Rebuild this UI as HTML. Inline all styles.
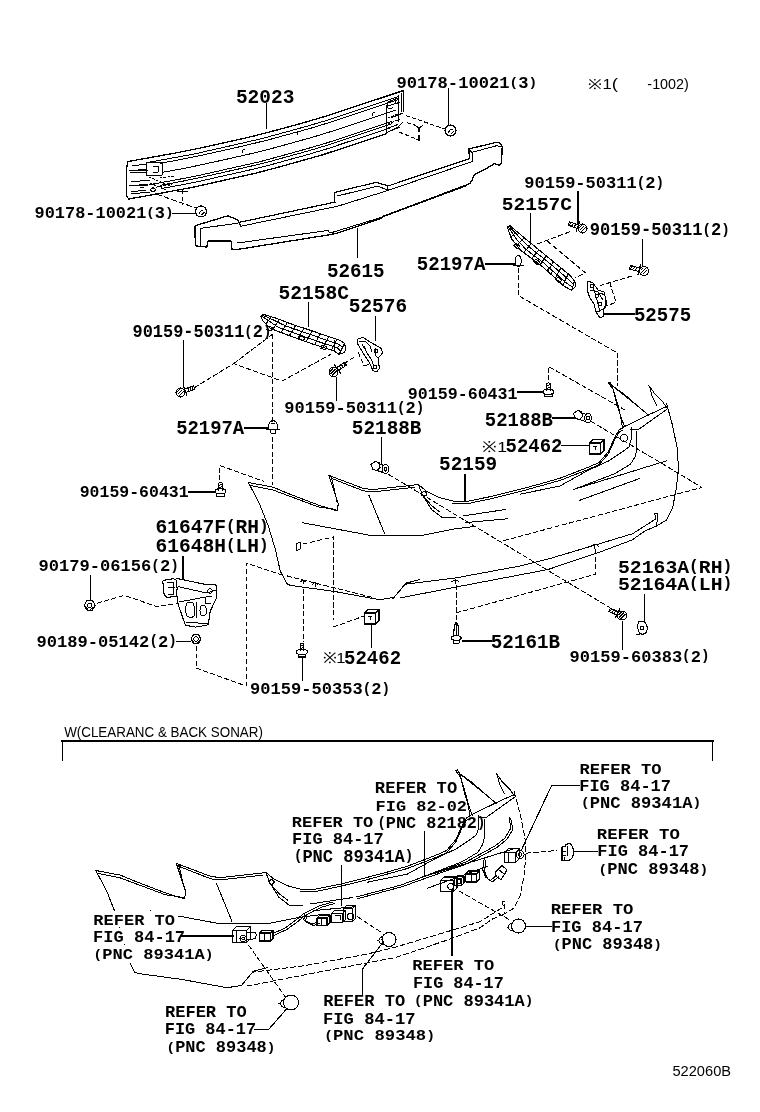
<!DOCTYPE html>
<html><head><meta charset="utf-8"><title>Parts diagram</title>
<style>html,body{margin:0;padding:0;background:#fff;} svg{display:block;}</style></head>
<body><svg width="760" height="1112" viewBox="0 0 760 1112">
<rect width="760" height="1112" fill="#fff"/>
<g fill="none" stroke="#000" stroke-width="1" stroke-linejoin="round" stroke-linecap="round" shape-rendering="crispEdges">
<path d="M127.8,161.6 L152.7,157.1 L177.7,152.6 L202.6,147.6 L227.5,142.0 L252.4,136.4 L277.4,129.9 L302.3,123.1 L327.2,115.8 L352.1,107.5 L377.1,99.3 L402.0,91.0" stroke-width="1.3"/>
<path d="M150.0,162.1 L172.5,158.0 L195.1,153.8 L217.6,148.7 L240.2,143.6 L262.7,138.4 L285.3,132.2 L307.8,126.0 L330.4,119.3 L352.9,111.8 L375.5,104.3 L398.0,96.8"/>
<path d="M160.0,163.3 L181.6,159.4 L203.3,154.9 L224.9,150.1 L246.5,145.2 L268.2,139.9 L289.8,134.0 L311.5,128.0 L333.1,121.4 L354.7,114.2 L376.4,107.0 L398.0,99.8"/>
<path d="M162.0,172.4 L183.3,168.6 L204.5,164.1 L225.8,159.4 L247.1,154.6 L268.4,149.4 L289.6,143.6 L310.9,137.7 L332.2,131.2 L353.5,124.1 L374.7,117.0 L396.0,110.0"/>
<path d="M150.0,184.6 L172.0,180.6 L194.0,176.5 L216.0,171.6 L238.0,166.6 L260.0,161.7 L282.0,155.7 L304.0,149.6 L326.0,143.2 L348.0,135.9 L370.0,128.6 L392.0,121.3"/>
<path d="M160.0,185.3 L181.1,181.5 L202.2,177.2 L223.3,172.4 L244.4,167.7 L265.5,162.7 L286.5,156.9 L307.6,151.1 L328.7,144.8 L349.8,137.8 L370.9,130.8 L392.0,123.8"/>
<path d="M162.0,188.4 L182.7,184.7 L203.5,180.4 L224.2,175.7 L244.9,171.1 L265.6,166.2 L286.4,160.4 L307.1,154.8 L327.8,148.6 L348.5,141.7 L369.3,134.9 L390.0,128.0"/>
<path d="M149.0,195.3 L170.5,191.4 L192.1,187.4 L213.6,182.6 L235.2,177.8 L256.7,172.9 L278.3,167.2 L299.8,161.2 L321.4,155.2 L342.9,148.1 L364.5,141.0 L386.0,133.8" stroke-width="1.3"/>
<path d="M127.8,161.6 L126.7,168.0 L126.7,196.3 L128.8,199.0 L149.4,195.3" stroke-width="1.3"/>
<path d="M132.0,166.0 L146.0,164.0"/>
<path d="M131.0,171.0 L146.0,169.0"/>
<path d="M131.0,182.0 L150.0,180.0"/>
<path d="M131.0,186.0 L148.0,184.0"/>
<path d="M131.0,192.0 L146.0,190.0"/>
<path d="M146.0,163.0 L162.0,162.0 L162.0,175.0 L146.0,176.0 L146.0,163.0"/>
<path d="M153.0,166.0 L158.0,166.0 L158.0,172.0 L153.0,172.0"/>
<path d="M129.4,171.0 L147.3,170.5"/>
<path d="M130.4,173.0 L146.0,172.6"/>
<path d="M149.0,177.0 L170.0,186.0" stroke-dasharray="2,2"/>
<path d="M150.0,183.0 L166.0,190.0" stroke-dasharray="2,2"/>
<path d="M160.0,178.0 L175.0,176.0" stroke-dasharray="2,2"/>
<path d="M152.0,188.0 L172.0,184.0" stroke-dasharray="2,2"/>
<path d="M150,190 q3,-3 6,0 q-3,3 -6,0"/>
<path d="M140,188 q2,-2 4,0"/>
<path d="M129.0,185.0 L148.0,186.0"/>
<path d="M131.0,194.0 L150.0,192.0"/>
<path d="M402.0,91.0 L403.5,90.5 L403.5,111.6" stroke-width="1.3"/>
<path d="M398.0,95.0 L398.0,122.0"/>
<path d="M386.0,105.0 L386.0,133.0"/>
<path d="M391.0,118.0 L403.0,113.0"/>
<path d="M386.0,133.0 L398.0,127.0 L403.0,122.0"/>
<path d="M242,153 q0,-4 3,-3"/>
<path d="M297,135 q0,-4 3,-3"/>
<path d="M372,116 q0,-4 3,-3"/>
<path d="M196.3,225.3 L227.9,215.8 L232.0,217.5 L237.4,220.0 L239.5,223.2 L240.5,226.3" stroke-width="1.3"/>
<path d="M200.5,228.4 L237.4,223.2"/>
<path d="M196.3,225.3 Q194.5,226 195,230 L195.3,244 Q196,247 200.5,246.3 L206.8,247 L208,241 L231,241 L232,249.5 L237.4,249.5" stroke-width="1.3"/>
<path d="M200.5,228.4 L200.5,246.3"/>
<path d="M240.5,222.1 L335.3,202.1" stroke-width="1.2"/>
<path d="M240.5,226.3 L337.4,206.3"/>
<path d="M334.2,202.0 L334.2,192.6 L376.9,182.1 L380.3,183.7 L387.0,185.5 L388.1,190.4" stroke-width="1.2"/>
<path d="M337.4,196.0 L378.0,186.0 L387.0,190.0"/>
<path d="M337.4,206.3 L388.1,190.4"/>
<path d="M388.0,186.0 L469.8,158.6" stroke-width="1.2"/>
<path d="M388.1,190.4 L473.0,161.3"/>
<path d="M469.8,158.6 L468.6,149.0 L496.6,142.3 L500.0,143.0 L502.2,146.8 L501.5,163.6 L498.8,165.3 L494.4,163.6 L485.4,169.1 L474.2,174.7 L472.0,180.3 L469.8,183.7" stroke-width="1.3"/>
<path d="M468.6,149.0 L472.0,152.4 L496.6,145.7 L502.2,146.8"/>
<path d="M472.0,152.4 L473.0,161.3"/>
<path d="M237.4,249.5 L328.0,235.0 L335.0,233.7 L381.4,218.4 L383.6,216.1 L469.8,183.7" stroke-width="1.3"/>
<path d="M237.4,243.0 L327.9,230.5 L330.0,233.0 L335.3,231.5 L382.5,217.0 L466.0,186.0"/>
<path d="M445.0,130.5 a5.5,5.5 0 1,0 11.0,0 a5.5,5.5 0 1,0 -11.0,0" stroke-width="1.2"/>
<path d="M448.5,132.5 q2,-4 4,-3 M451.5,133.5 l2,-2"/>
<path d="M195.5,211.5 a5.5,5.5 0 1,0 11.0,0 a5.5,5.5 0 1,0 -11.0,0" stroke-width="1.2"/>
<path d="M199,213.5 q2,-4 4,-3 M202,214.5 l2,-2"/>
<path d="M448.5,88.5 L448.5,125.0"/>
<path d="M171.5,213.0 L195.5,213.0"/>
<path d="M266.5,103.5 L266.5,128.5"/>
<path d="M357.5,228.5 L357.5,258.0"/>
<path d="M156.7,194.2 L195.7,207.9" stroke-dasharray="5,3"/>
<path d="M182.5,190.0 L182.5,205.0" stroke-dasharray="4,3"/>
<path d="M177.0,191.0 L188.0,191.0"/>
<path d="M406.0,115.7 L444.5,128.8" stroke-dasharray="3.5,3"/>
<path d="M407.0,122.6 L416.0,125.5" stroke-dasharray="3.5,3"/>
<path d="M415.3,125.6 L419.0,128.0 L422.6,125.6" stroke-width="1.1"/>
<path d="M419.0,128.0 L419.0,131.0" stroke-width="1.4"/>
<path d="M399.6,132.2 L418.0,139.6" stroke-dasharray="3.5,3"/>
<path d="M419.0,135.5 L419.0,140.5 L417.0,139.5" stroke-width="1.2"/>
<path d="M401.3,93.3 L401.3,111.7"/>
<path d="M386.6,113.5 L386.6,132.9"/>
<path d="M388.0,102.0 L398.0,98.0"/>
<path d="M388.0,106.0 L400.0,102.0"/>
<path d="M389,101 q-3,3 -1,7 q3,2 5,-1"/>
<path d="M395,99 l0,5 l3,-1"/>
<path d="M388.0,118.0 L398.0,114.0" stroke-dasharray="2,2"/>
<path d="M388.0,124.0 L400.0,119.0" stroke-dasharray="2,2"/>
<path d="M388.0,128.0 L398.0,124.5"/>
<path d="M390.0,131.0 L400.0,127.0"/>
<g><path d="M248.3,482.5 L273.2,487.2 L287.4,493.2 L318.2,505.0 L337.1,510.9 L338.3,503.8 L328.8,475.4 M250.7,485.5 L273.0,490.0 L318.0,506.8 L336.0,509.5 M331.5,477.5 L337.0,501.5 M328.8,475.4 L345.0,481.5 L363.2,488.4 L372.6,489.6 L405.8,486.0 L415.3,484.9 L418.4,484.5 L426.3,491.0 L439.5,497.6 L452.6,501.0 L465.8,501.6 L492.0,496.3 L518.4,489.7 L540.0,484.0 L559.5,478.4 L587.9,467.4 L599.0,462.6 L608.4,451.6 L614.7,437.4 L619.5,429.5 L622.6,428.0 M331.0,478.2 L363.2,490.8 L372.0,492.0 L405.0,488.3 L415.0,487.2 M452.6,503.2 L466.0,504.0 L492.0,498.5 L518.4,492.0 L559.5,480.6 L587.9,469.6 L599.0,464.8 L608.4,453.8 L614.7,439.6 L619.5,431.7 L623.0,430.2 M418.4,484.5 L422.4,495.0 L431.6,509.5 L442.0,517.4 L455.3,517.4 M421.0,493.7 L432.0,506.0 L440.0,512.0 M421.5,494 a2.6,2.2 0 1,0 5.2,0 a2.6,2.2 0 1,0 -5.2,0 M463.0,516.0 L505.3,509.5 M465.8,522.6 L508.0,518.7 M573.7,489.4 L666.6,460.8 M579.7,500.3 L640.0,478.4 M302.8,522.8 L372.6,535.8 L420.0,535.8 L452.6,529.2 L473.7,526.6 M369.0,495.5 L384.5,533.4 M520.0,494.2 L560.0,486.0 L587.9,470.5 L608.4,461.0 L622.6,451.6 L629.0,446.8 L631.0,440.0 L631.0,427.2 M573.7,489.5 L614.7,473.7 L630.5,464.2 L635.3,456.3 L636.8,450.0 L637.0,431.2 M622.6,428.0 L619.2,409.5 L613.3,389.7 L608.4,382.8 L610.0,382.0 L612.3,385.8 L617.0,405.0 L622.0,420.0 L625.0,427.2 M612.3,385.8 L625.0,396.0 L637.0,405.5 L648.8,415.4 M610.5,384.5 L624.0,394.0 L640.0,408.0 M648.8,385.4 L654.7,393.7 L662.6,401.6 L666.6,407.5 M649.8,386.8 L652.0,396.0 L656.7,405.5 M648.8,385.4 L649.8,386.8 M623.2,427.2 L645.0,416.5 L666.6,406.5 M631.0,429.5 L639.0,429.2 L666.6,409.5 M248.3,482.5 L259.0,502.6 L268.4,526.3 L275.5,550.0 L280.3,571.3 L287.4,584.3 L291.0,585.5 L334.7,591.5 L379.7,599.7 L394.0,597.4 L405.8,583.2 L420.0,579.6"/></g>
<g><path d="M666.6,403.6 L672.5,425.3 L677.4,449.0 L678.4,468.7 L676.4,488.4 L672.5,508.2 L666.6,520.0 L656.7,525.9 L657.7,514.0 L654.7,513.0 M654.7,513.0 L655.8,519.0 L632.6,533.7 L600.0,543.6 L548.4,559.0 L520.0,566.0 L455.8,577.9 L405.3,584.2 L392.6,599.0 M656.7,525.9 L645.0,531.0 L632.0,540.0 L600.0,552.0 L548.0,569.5 L464.0,585.5 L400.0,598.0"/></g>
<g transform="translate(-152.5,388)"><path d="M248.3,482.5 L273.2,487.2 L287.4,493.2 L318.2,505.0 L337.1,510.9 L338.3,503.8 L328.8,475.4 M250.7,485.5 L273.0,490.0 L318.0,506.8 L336.0,509.5 M331.5,477.5 L337.0,501.5 M328.8,475.4 L345.0,481.5 L363.2,488.4 L372.6,489.6 L405.8,486.0 L415.3,484.9 L418.4,484.5 L426.3,491.0 L439.5,497.6 L452.6,501.0 L465.8,501.6 L492.0,496.3 L518.4,489.7 L540.0,484.0 L559.5,478.4 L587.9,467.4 L599.0,462.6 L608.4,451.6 L614.7,437.4 L619.5,429.5 L622.6,428.0 M331.0,478.2 L363.2,490.8 L372.0,492.0 L405.0,488.3 L415.0,487.2 M452.6,503.2 L466.0,504.0 L492.0,498.5 L518.4,492.0 L559.5,480.6 L587.9,469.6 L599.0,464.8 L608.4,453.8 L614.7,439.6 L619.5,431.7 L623.0,430.2 M418.4,484.5 L422.4,495.0 L431.6,509.5 L442.0,517.4 L455.3,517.4 M421.0,493.7 L432.0,506.0 L440.0,512.0 M421.5,494 a2.6,2.2 0 1,0 5.2,0 a2.6,2.2 0 1,0 -5.2,0 M463.0,516.0 L505.3,509.5 M465.8,522.6 L508.0,518.7 M573.7,489.4 L666.6,460.8 M579.7,500.3 L640.0,478.4 M302.8,522.8 L372.6,535.8 L420.0,535.8 L452.6,529.2 L473.7,526.6 M369.0,495.5 L384.5,533.4 M520.0,494.2 L560.0,486.0 L587.9,470.5 L608.4,461.0 L622.6,451.6 L629.0,446.8 L631.0,440.0 L631.0,427.2 M573.7,489.5 L614.7,473.7 L630.5,464.2 L635.3,456.3 L636.8,450.0 L637.0,431.2 M622.6,428.0 L619.2,409.5 L613.3,389.7 L608.4,382.8 L610.0,382.0 L612.3,385.8 L617.0,405.0 L622.0,420.0 L625.0,427.2 M612.3,385.8 L625.0,396.0 L637.0,405.5 L648.8,415.4 M610.5,384.5 L624.0,394.0 L640.0,408.0 M648.8,385.4 L654.7,393.7 L662.6,401.6 L666.6,407.5 M649.8,386.8 L652.0,396.0 L656.7,405.5 M648.8,385.4 L649.8,386.8 M623.2,427.2 L645.0,416.5 L666.6,406.5 M631.0,429.5 L639.0,429.2 L666.6,409.5 M248.3,482.5 L259.0,502.6 L268.4,526.3 L275.5,550.0 L280.3,571.3 L287.4,584.3 L291.0,585.5 L334.7,591.5 L379.7,599.7 L394.0,597.4 L405.8,583.2 L420.0,579.6"/></g>
<g transform="translate(-152.5,388)" stroke-dasharray="5,3"><path d="M666.6,403.6 L672.5,425.3 L677.4,449.0 L678.4,468.7 L676.4,488.4 L672.5,508.2 L666.6,520.0 L656.7,525.9 L657.7,514.0 L654.7,513.0 M654.7,513.0 L655.8,519.0 L632.6,533.7 L600.0,543.6 L548.4,559.0 L520.0,566.0 L455.8,577.9 L405.3,584.2 L392.6,599.0 M656.7,525.9 L645.0,531.0 L632.0,540.0 L600.0,552.0 L548.0,569.5 L464.0,585.5 L400.0,598.0"/></g>
<path d="M509.5,225.3 L526.3,239.5 L534.7,246.3 L547.4,256.8 L559.0,266.3 L570.5,275.8 L574.5,281.0 L571.6,290.5 L563.0,285.5 L553.0,276.0 L542.0,266.3 L521.0,250.5 L511.6,239.0 L507.4,227.4 Z" stroke-width="1.1"/>
<path d="M508.8,226.0 L521.4,239.3 L530.1,247.7 L545.6,260.0 L557.0,269.5 L568.0,279.0 L573.5,284.2"/>
<path d="M508.1,226.7 L516.5,239.2 L525.6,249.1 L543.8,263.1 L555.0,272.8 L565.5,282.3 L572.6,287.3"/>
<path d="M516.8,231.5 L510.9,237.0"/>
<path d="M524.1,237.6 L516.7,245.3"/>
<path d="M531.4,243.6 L523.7,252.6"/>
<path d="M538.8,249.7 L531.9,258.7"/>
<path d="M546.1,255.8 L540.1,264.8"/>
<path d="M553.5,261.8 L547.8,271.4"/>
<path d="M560.9,267.8 L555.4,278.3"/>
<path d="M568.2,273.9 L562.8,285.3"/>
<path d="M516.0,243.0 L519.8,246.2 L517.6,248.9 L513.8,245.7 Z"/>
<path d="M536.0,259.0 L539.8,262.2 L537.6,264.9 L533.8,261.7 Z"/>
<path d="M549.0,268.0 L552.8,271.2 L550.6,273.9 L546.8,270.7 Z"/>
<path d="M558.0,277.0 L561.8,280.2 L559.6,282.9 L555.8,279.7 Z"/>
<path d="M574.5,281.0 L576.0,286.0 L571.6,290.5" stroke-width="1.1"/>
<path d="M588.0,281.0 L593.0,283.0 L598.0,290.0 L604.0,292.0 L606.0,300.0 L606.0,306.0 L603.0,310.0 L604.0,316.0 L600.0,318.0 L596.0,312.0 L594.0,304.0 L590.0,298.0 L587.0,290.0 Z" stroke-width="1.1"/>
<path d="M590.0,290.0 L598.0,292.0 L603.0,300.0"/>
<path d="M590.2,286 a1.8,1.8 0 1,0 3.6,0 a1.8,1.8 0 1,0 -3.6,0"/>
<path d="M598.2,304 a1.8,1.8 0 1,0 3.6,0 a1.8,1.8 0 1,0 -3.6,0"/>
<path d="M595.5,296 a1.5,1.5 0 1,0 3.0,0 a1.5,1.5 0 1,0 -3.0,0"/>
<path d="M596.0,312.0 L604.0,309.0"/>
<path d="M593.0,286.0 L597.0,300.0 L600.0,312.0"/>
<path d="M600.0,293.0 L605.0,295.0"/>
<path d="M262.9,314.2 L276.0,318.2 L293.2,324.7 L311.6,330.7 L328.7,336.6 L340.5,340.5 L344.5,343.2 L339.2,354.3 L334.0,351.0 L310.3,343.2 L286.6,334.6 L270.8,328.7 L262.9,320.8 L260.9,316.8 Z" stroke-width="1.1"/>
<path d="M262.2,315.1 L271.6,319.1 L285.7,326.0 L303.3,332.0 L322.6,338.8 L338.3,344.0 L342.7,346.9"/>
<path d="M261.6,315.9 L267.3,319.9 L278.3,327.4 L294.9,333.3 L316.4,341.0 L336.2,347.5 L341.0,350.6"/>
<path d="M271.2,316.7 L266.0,323.9"/>
<path d="M279.4,319.5 L272.8,329.4"/>
<path d="M287.5,322.6 L281.1,332.5"/>
<path d="M295.7,325.5 L289.4,335.6"/>
<path d="M303.9,328.2 L297.8,338.7"/>
<path d="M312.2,330.9 L306.1,341.7"/>
<path d="M320.4,333.7 L314.5,344.6"/>
<path d="M328.6,336.6 L323.0,347.4"/>
<path d="M336.8,339.3 L331.4,350.1"/>
<path d="M268.0,326.0 L272.7,327.7 L271.5,331.0 L266.8,329.3 Z"/>
<path d="M300.0,336.0 L304.7,337.7 L303.5,341.0 L298.8,339.3 Z"/>
<path d="M322.0,345.0 L326.7,346.7 L325.5,350.0 L320.8,348.3 Z"/>
<path d="M344.5,343.2 L345.8,348.4 L344.5,352.4 L339.2,354.3" stroke-width="1.1"/>
<path d="M334.0,340.0 L334.0,352.0"/>
<path d="M337.7,348 a2.3,2.3 0 1,0 4.6,0 a2.3,2.3 0 1,0 -4.6,0"/>
<path d="M357.2,339.2 L362.8,337.4 L370.1,342.0 L376.6,345.7 L381.2,348.4 L382.6,353.0 L380.2,355.8 L378.4,357.6 L379.3,368.7 L376.6,371.9 L372.9,370.5 L369.2,362.2 L363.7,354.0 L358.1,344.7 Z" stroke-width="1.1"/>
<path d="M359.0,341.0 L365.0,341.0 L370.0,346.0 L372.0,352.0"/>
<path d="M364.0,346.0 L367.0,353.0 L371.0,359.0 L374.0,366.0"/>
<path d="M375.0,348.0 L376.0,356.0 L378.0,358.0"/>
<path d="M374.4,351 a1.6,1.6 0 1,0 3.2,0 a1.6,1.6 0 1,0 -3.2,0"/>
<path d="M373.2,367 a1.8,1.8 0 1,0 3.6,0 a1.8,1.8 0 1,0 -3.6,0"/>
<path d="M362.0,344.0 L366.0,351.0"/>
<path d="M165.1,580.1 L173.4,578.7 L176.2,580.1 L177.1,588.4 L176.2,596.7 L167.0,597.2 L164.2,594.9 L162.8,581.0 Z" stroke-width="1.1"/>
<path d="M167.0,583.0 L173.0,582.0 L174.0,594.0 L168.0,594.0"/>
<path d="M168.0,588.0 L175.0,587.0"/>
<path d="M176.2,578.3 L206.6,584.7 L215.8,584.7 L216.7,588.4 L216.7,597.6 L213.9,603.1 L210.2,611.4 L208.4,624.3 L206.6,625.2 L195.5,627.1 L185.4,625.2 L178.0,604.1 L177.1,596.7" stroke-width="1.1"/>
<path d="M178.0,586.6 L206.6,593.0 L216.0,590.0"/>
<path d="M179.0,602.0 L190.0,600.0 L200.0,598.0 L212.0,596.0"/>
<path d="M187,603 q-3,7 0,13 q4,3 7,0 q2,-7 -1,-13 q-3,-2 -6,0 z"/>
<path d="M201,606 q-2,5 0,9 q3,2 5,-1 q1,-5 -1,-8 q-2,-1 -4,0 z"/>
<path d="M207.8,591 a2.2,2.2 0 1,0 4.4,0 a2.2,2.2 0 1,0 -4.4,0"/>
<path d="M205.0,597.0 L205.0,603.0 L211.0,603.0"/>
<path d="M186.3,622.5 L207.5,623.4"/>
<path d="M196.0,602.0 L196.0,618.0"/>
<path d="M578.0,228.5 a4.5,4.5 0 1,0 9.0,0 a4.5,4.5 0 1,0 -9.0,0" stroke-width="1.1"/>
<path d="M580.0,230.0 l4,-4 M581.5,231.5 l4,-4 M579.5,227.5 l2,-2"/>
<path d="M579.5,222.1 L576.1,231.5" stroke-width="1.2"/>
<path d="M578.4,225.1 L569.5,221.8 L568.3,225.2 L577.2,228.5"/>
<path d="M576.1,224.2 L573.7,227.2"/>
<path d="M573.7,223.4 L571.4,226.4"/>
<path d="M571.4,222.5 L569.0,225.5"/>
<path d="M639.5,271.0 a4.5,4.5 0 1,0 9.0,0 a4.5,4.5 0 1,0 -9.0,0" stroke-width="1.1"/>
<path d="M641.5,272.5 l4,-4 M643.0,274.0 l4,-4 M641.0,270.0 l2,-2"/>
<path d="M640.5,264.9 L637.9,274.5" stroke-width="1.2"/>
<path d="M639.6,268.0 L630.5,265.5 L629.5,269.0 L638.7,271.4"/>
<path d="M637.2,267.3 L635.1,270.5"/>
<path d="M634.8,266.7 L632.7,269.8"/>
<path d="M632.4,266.0 L630.3,269.2"/>
<path d="M176.0,392.5 a4.5,4.5 0 1,0 9.0,0 a4.5,4.5 0 1,0 -9.0,0" stroke-width="1.1"/>
<path d="M178.0,394.0 l4,-4 M179.5,395.5 l4,-4 M177.5,391.5 l2,-2"/>
<path d="M186.9,395.5 L183.5,386.1" stroke-width="1.2"/>
<path d="M185.8,392.5 L194.7,389.2 L193.5,385.8 L184.6,389.1"/>
<path d="M188.2,391.6 L188.1,387.8"/>
<path d="M190.5,390.8 L190.4,387.0"/>
<path d="M192.9,389.9 L192.8,386.1"/>
<path d="M329.0,372.0 a4.5,4.5 0 1,0 9.0,0 a4.5,4.5 0 1,0 -9.0,0" stroke-width="1.1"/>
<path d="M331.0,373.5 l4,-4 M332.5,375.0 l4,-4 M330.5,371.0 l2,-2"/>
<path d="M340.5,373.2 L334.7,365.0" stroke-width="1.2"/>
<path d="M338.6,370.6 L346.4,365.2 L344.3,362.2 L336.6,367.7"/>
<path d="M340.7,369.2 L339.6,365.5"/>
<path d="M342.7,367.7 L341.6,364.1"/>
<path d="M344.8,366.3 L343.7,362.7"/>
<path d="M546.6,390.8 L546.6,383.8 Q548.4,381.8 550.1999999999999,383.8 L550.1999999999999,390.8"/>
<path d="M546.9,385.8 l3,-1.2 M546.9,388.3 l3,-1.2"/>
<path d="M542.9,391.8 a5.5,2.6 0 1,0 11,0 a5.5,2.6 0 1,0 -11,0" stroke-width="1.1"/>
<path d="M544.6,394.2 L544.6,396.8 L552.1999999999999,396.8 L552.1999999999999,394.2" stroke-width="1.1"/>
<path d="M218.6,490.3 L218.6,483.3 Q220.4,481.3 222.20000000000002,483.3 L222.20000000000002,490.3"/>
<path d="M218.9,485.3 l3,-1.2 M218.9,487.8 l3,-1.2"/>
<path d="M214.9,491.3 a5.5,2.6 0 1,0 11,0 a5.5,2.6 0 1,0 -11,0" stroke-width="1.1"/>
<path d="M216.6,493.7 L216.6,496.3 L224.20000000000002,496.3 L224.20000000000002,493.7" stroke-width="1.1"/>
<path d="M300.2,651.0 L300.2,644.0 Q302.0,642.0 303.8,644.0 L303.8,651.0"/>
<path d="M300.5,646.0 l3,-1.2 M300.5,648.5 l3,-1.2"/>
<path d="M296.5,652.0 a5.5,2.6 0 1,0 11,0 a5.5,2.6 0 1,0 -11,0" stroke-width="1.1"/>
<path d="M298.2,654.4 L298.2,657.0 L305.8,657.0 L305.8,654.4" stroke-width="1.1"/>
<path d="M617.5,615.5 a4.5,4.5 0 1,0 9.0,0 a4.5,4.5 0 1,0 -9.0,0" stroke-width="1.1"/>
<path d="M619.5,617.0 l4,-4 M621.0,618.5 l4,-4 M619.0,614.5 l2,-2"/>
<path d="M619.6,608.9 L615.4,617.9" stroke-width="1.2"/>
<path d="M618.2,611.8 L610.5,608.2 L609.0,611.4 L616.7,615.0"/>
<path d="M616.2,610.8 L613.6,613.6"/>
<path d="M614.2,609.9 L611.5,612.6"/>
<path d="M612.1,608.9 L609.5,611.7"/>
<path d="M515.2,261.0 a3,5.5 0 1,0 6,0 a3,5.5 0 1,0 -6,0" stroke-width="1.1"/>
<path d="M513.2,265.5 L523.2,265.5"/>
<path d="M268.5,429 Q268,421 273,420.5 Q278,421 277.5,429" stroke-width="1.1"/>
<path d="M267,429.5 L279,429.5" stroke-width="1.1"/>
<path d="M270.5,430 L270.5,433 L275.5,433 L275.5,430"/>
<path d="M271,424 q2,-2 4,0"/>
<path d="M573.5,413.5 L577.5,410.5 L581.5,411.5 L582.5,416.5 L579.5,419.5 L575.5,418.5 Z" stroke-width="1.1"/>
<path d="M580.5,412.5 L586.5,414.5"/>
<path d="M579.5,419.5 L585.5,421.5"/>
<path d="M584.5,418.0 a3.5,4.5 0 1,0 7,0 a3.5,4.5 0 1,0 -7,0" stroke-width="1.1"/>
<path d="M586.5,418.0 a1.5,2 0 1,0 3,0 a1.5,2 0 1,0 -3,0"/>
<path d="M371.0,464.5 L375.0,461.5 L379.0,462.5 L380.0,467.5 L377.0,470.5 L373.0,469.5 Z" stroke-width="1.1"/>
<path d="M378.0,463.5 L384.0,465.5"/>
<path d="M377.0,470.5 L383.0,472.5"/>
<path d="M382.0,469.0 a3.5,4.5 0 1,0 7,0 a3.5,4.5 0 1,0 -7,0" stroke-width="1.1"/>
<path d="M384.0,469.0 a1.5,2 0 1,0 3,0 a1.5,2 0 1,0 -3,0"/>
<path d="M589.5,443.0 L600.5,443.0 L600.5,454.0 L589.5,454.0 Z" stroke-width="1.1"/>
<path d="M589.5,443.0 L593.0,439.5 L604.0,439.5 L600.5,443.0" stroke-width="1.1"/>
<path d="M604.0,439.5 L604.0,450.5 L600.5,454.0" stroke-width="1.1"/>
<path d="M593.0,446.0 L597.0,446.0"/>
<path d="M595.0,446.0 L595.0,450.0"/>
<path d="M364.5,613.0 L375.5,613.0 L375.5,624.0 L364.5,624.0 Z" stroke-width="1.1"/>
<path d="M364.5,613.0 L368.0,609.5 L379.0,609.5 L375.5,613.0" stroke-width="1.1"/>
<path d="M379.0,609.5 L379.0,620.5 L375.5,624.0" stroke-width="1.1"/>
<path d="M368.0,616.0 L372.0,616.0"/>
<path d="M370.0,616.0 L370.0,620.0"/>
<path d="M453.7,636.0 L454.2,626.0 L456.2,622.0 L458.2,626.0 L458.7,636.0" stroke-width="1.1"/>
<path d="M451.2,638.0 a5,2.3 0 1,0 10,0 a5,2.3 0 1,0 -10,0" stroke-width="1.1"/>
<path d="M453.2,640.0 L453.2,643.0 L459.2,643.0 L459.2,640.0"/>
<path d="M456.2,624.0 L456.2,635.0"/>
<path d="M95.2,605.3 L92.5,610.1 L87.0,610.1 L84.2,605.3 L87.0,600.5 L92.5,600.5 Z" stroke-width="1.1"/>
<path d="M87.4,605.3 a2.3,2.3 0 1,0 4.6,0 a2.3,2.3 0 1,0 -4.6,0"/>
<path d="M85.7,606.3 l2,3 M90.7,609.3 l3,-2"/>
<path d="M201.0,639.0 L198.5,643.3 L193.5,643.3 L191.0,639.0 L193.5,634.7 L198.5,634.7 Z" stroke-width="1.1"/>
<path d="M193.7,639.0 a2.3,2.3 0 1,0 4.6,0 a2.3,2.3 0 1,0 -4.6,0"/>
<path d="M192.0,640.0 l2,3 M197.0,643.0 l3,-2"/>
<path d="M638.5,622 q-2,6 1,11 q4,3 7,-1 q2,-5 -1,-9 q-3,-3 -7,-1 z" stroke-width="1.1"/>
<path d="M640,628 a2,2 0 1,0 4,0 a2,2 0 1,0 -4,0"/>
<path d="M636,634 l4,1"/>
<path d="M620,438 a4,3.5 0 1,0 8,0 a4,3.5 0 1,0 -8,0"/>
<path d="M296,544 l4,-2 l0,7 l-4,2 z"/>
<path d="M578.0,191.5 L578.0,223.5" stroke-width="2"/>
<path d="M530.5,213.5 L530.5,243.0"/>
<path d="M642.5,239.0 L642.5,266.0"/>
<path d="M486.0,264.0 L514.0,264.0" stroke-width="2"/>
<path d="M605.0,314.0 L634.5,314.0" stroke-width="2"/>
<path d="M308.5,302.5 L308.5,327.0"/>
<path d="M375.5,316.0 L375.5,341.0"/>
<path d="M183.5,340.0 L183.5,387.5"/>
<path d="M336.5,377.0 L336.5,400.5"/>
<path d="M244.5,428.0 L268.0,428.0" stroke-width="2"/>
<path d="M381.5,437.0 L381.5,464.0"/>
<path d="M517.5,392.0 L542.5,392.0" stroke-width="2"/>
<path d="M553.0,418.0 L574.0,418.0" stroke-width="2"/>
<path d="M561.5,445.5 L589.5,445.5"/>
<path d="M465.0,475.0 L465.0,501.0" stroke-width="2"/>
<path d="M188.5,492.0 L214.5,492.0" stroke-width="2"/>
<path d="M183.0,557.0 L183.0,579.0" stroke-width="2"/>
<path d="M90.5,575.0 L90.5,599.5"/>
<path d="M176.5,641.5 L190.5,641.5"/>
<path d="M644.5,594.5 L644.5,623.0"/>
<path d="M463.2,641.0 L491.5,641.0" stroke-width="2"/>
<path d="M622.5,621.2 L622.5,649.5"/>
<path d="M371.5,648.0 L371.5,624.5"/>
<path d="M302.5,680.6 L302.5,657.5"/>
<path d="M518.2,268.0 L518.2,295.5 L617.4,353.0 L617.4,386.0" stroke-dasharray="4.5,3"/>
<path d="M548.4,380.0 L548.4,366.4 L625.0,410.0" stroke-dasharray="4.5,3"/>
<path d="M590.8,421.2 L702.0,487.4 L502.6,541.0 L499.0,541.0" stroke-dasharray="4.5,3"/>
<path d="M388.6,474.4 L613.8,610.1" stroke-dasharray="4.5,3"/>
<path d="M456.2,585.3 L456.2,622.0" stroke-dasharray="4.5,3"/>
<path d="M456.2,612.9 L595.8,574.2 L595.8,548.0" stroke-dasharray="4.5,3"/>
<path d="M219.7,480.0 L219.7,465.5 L263.8,481.4" stroke-dasharray="4.5,3"/>
<path d="M272.5,437.0 L272.5,485.0" stroke-dasharray="4.5,3"/>
<path d="M272.9,334.5 L272.9,424.0" stroke-dasharray="4.5,3"/>
<path d="M194.2,387.8 L233.6,363.6 L282.0,381.1 L330.4,354.5" stroke-dasharray="4.5,3"/>
<path d="M233.6,363.6 L272.9,334.0" stroke-dasharray="4.5,3"/>
<path d="M344.0,363.6 L356.0,356.0" stroke-dasharray="4.5,3"/>
<path d="M358.0,352.0 L364.0,366.0 L370.0,364.0" stroke-dasharray="4.5,3"/>
<path d="M569.7,231.8 L536.0,244.5" stroke-dasharray="4.5,3"/>
<path d="M547.6,241.3 L585.5,272.9 L575.0,278.0" stroke-dasharray="4.5,3"/>
<path d="M631.8,276.0 L600.3,285.5" stroke-dasharray="4.5,3"/>
<path d="M609.7,282.4 L616.0,302.4 L604.5,306.6" stroke-dasharray="4.5,3"/>
<path d="M97.1,603.2 L124.5,595.4 L157.1,606.7 L178.2,603.2" stroke-dasharray="4.5,3"/>
<path d="M196.0,646.0 L196.0,668.0 L246.0,686.0 L246.0,563.0 L285.0,576.0" stroke-dasharray="4.5,3"/>
<path d="M302.8,544.0 L333.6,537.0 L333.6,610.0 L334.0,620.0" stroke-dasharray="4.5,3"/>
<path d="M303.5,589.0 L303.5,642.0" stroke-dasharray="4.5,3"/>
<path d="M333.6,627.0 L364.0,616.0" stroke-dasharray="4.5,3"/>
<path d="M62.0,741.0 L713.0,741.0" stroke-width="2"/>
<path d="M62.5,741.0 L62.5,761.0"/>
<path d="M712.5,741.0 L712.5,760.5"/>
<path d="M232.5,930.5 L246.5,930.5 L246.5,942.5 L232.5,942.5 Z" stroke-width="1.1"/>
<path d="M232.5,930.5 L236.5,926.5 L250.5,926.5 L246.5,930.5" stroke-width="1.1"/>
<path d="M250.5,926.5 L250.5,938.5 L246.5,942.5" stroke-width="1.1"/>
<path d="M236.5,930.5 L236.5,942.5"/>
<path d="M240.0,938.5 a3.2,3.2 0 1,0 6.4,0 a3.2,3.2 0 1,0 -6.4,0" stroke-width="1.1"/>
<path d="M241.79999999999998,938.5 a1.4,1.4 0 1,0 2.8,0 a1.4,1.4 0 1,0 -2.8,0"/>
<path d="M246.5,932.0 L254.5,932.0 L256.6,934.5 L255.0,938.7 L246.5,940.0"/>
<path d="M259.5,933.0 L270.5,933.0 L270.5,941.0 L259.5,941.0 Z" stroke-width="1.1"/>
<path d="M259.5,933.0 L262.0,930.5 L273.0,930.5 L270.5,933.0" stroke-width="1.1"/>
<path d="M273.0,930.5 L273.0,938.5 L270.5,941.0" stroke-width="1.1"/>
<path d="M264.0,933.0 L264.0,941.0"/>
<path d="M331.5,913.5 L342.5,913.5 L342.5,922.5 L331.5,922.5 Z" stroke-width="1.1"/>
<path d="M331.5,913.5 L334.5,910.5 L345.5,910.5 L342.5,913.5" stroke-width="1.1"/>
<path d="M345.5,910.5 L345.5,919.5 L342.5,922.5" stroke-width="1.1"/>
<path d="M335.0,915.0 L340.0,915.0 L340.0,920.0"/>
<path d="M343.5,908.5 L352.5,908.5 L352.5,921.5 L343.5,921.5 Z" stroke-width="1.1"/>
<path d="M343.5,908.5 L346.5,905.5 L355.5,905.5 L352.5,908.5" stroke-width="1.1"/>
<path d="M355.5,905.5 L355.5,918.5 L352.5,921.5" stroke-width="1.1"/>
<path d="M347.5,916.5 a3,3 0 1,0 6,0 a3,3 0 1,0 -6,0" stroke-width="1.1"/>
<path d="M317.0,918.0 L327.0,918.0 L327.0,925.5 L317.0,925.5 Z" stroke-width="1.1"/>
<path d="M317.0,918.0 L320.0,915.0 L330.0,915.0 L327.0,918.0" stroke-width="1.1"/>
<path d="M330.0,915.0 L330.0,922.5 L327.0,925.5" stroke-width="1.1"/>
<path d="M321.0,918.0 L321.0,925.0"/>
<path d="M440.5,880.5 L453.5,880.5 L453.5,891.5 L440.5,891.5 Z" stroke-width="1.1"/>
<path d="M440.5,880.5 L444.0,877.0 L457.0,877.0 L453.5,880.5" stroke-width="1.1"/>
<path d="M457.0,877.0 L457.0,888.0 L453.5,891.5" stroke-width="1.1"/>
<path d="M447.8,886.5 a3,3 0 1,0 6,0 a3,3 0 1,0 -6,0" stroke-width="1.1"/>
<path d="M454.5,878.5 L461.5,878.5 L461.5,885.5 L454.5,885.5 Z" stroke-width="1.1"/>
<path d="M454.5,878.5 L457.0,876.0 L464.0,876.0 L461.5,878.5" stroke-width="1.1"/>
<path d="M464.0,876.0 L464.0,883.0 L461.5,885.5" stroke-width="1.1"/>
<path d="M456.3,881.5 a2.2,2.2 0 1,0 4.4,0 a2.2,2.2 0 1,0 -4.4,0"/>
<path d="M465.7,874.0 L476.7,874.0 L476.7,882.0 L465.7,882.0 Z" stroke-width="1.1"/>
<path d="M465.7,874.0 L468.7,871.0 L479.7,871.0 L476.7,874.0" stroke-width="1.1"/>
<path d="M479.7,871.0 L479.7,879.0 L476.7,882.0" stroke-width="1.1"/>
<path d="M471.0,874.0 L471.0,882.0"/>
<path d="M495.4,872.0 L502.0,865.4 L507.1,870.0 L501.0,879.6 L495.4,876.0 Z" stroke-width="1.1"/>
<path d="M498.0,869.0 L504.0,874.0"/>
<path d="M504.6,852.5 L515.6,852.5 L515.6,862.5 L504.6,862.5 Z" stroke-width="1.1"/>
<path d="M504.6,852.5 L508.6,848.5 L519.6,848.5 L515.6,852.5" stroke-width="1.1"/>
<path d="M519.6,848.5 L519.6,858.5 L515.6,862.5" stroke-width="1.1"/>
<path d="M516.1,854.5 a4,4 0 1,0 8,0 a4,4 0 1,0 -8,0" stroke-width="1.1"/>
<path d="M518.3000000000001,854.5 a1.8,1.8 0 1,0 3.6,0 a1.8,1.8 0 1,0 -3.6,0"/>
<path d="M508.0,852.5 L508.0,862.5"/>
<path d="M382,939.5 a7,7 0 1,0 14,0 a7,7 0 1,0 -14,0" stroke-width="1.1"/>
<path d="M383,936.5 q-4,1 -4,4 q0,3 4,4"/>
<path d="M379,940.5 l-2,0"/>
<path d="M511.5,926 a7,7 0 1,0 14,0 a7,7 0 1,0 -14,0" stroke-width="1.1"/>
<path d="M512.5,923 q-4,1 -4,4 q0,3 4,4"/>
<path d="M508.5,927 l-2,0"/>
<path d="M283.5,1002.5 a7.5,7.5 0 1,0 15.0,0 a7.5,7.5 0 1,0 -15.0,0" stroke-width="1.1"/>
<path d="M284.5,999.5 q-4,1 -4,4 q0,3 4,4"/>
<path d="M280.5,1003.5 l-2,0"/>
<path d="M562,847 L565.5,846 L566,844.5 L569.5,843.2 Q573.5,846 573.5,852 Q573.5,858.5 569.5,860 L566,860.5 L562,860.5 Z" stroke-width="1.1"/>
<path d="M567.5,846 L567.5,856 M562,851 L566,851 M562,855 L566,855 M564,857 L564,860"/>
<path d="M272.0,934.0 L285.0,928.0 L296.0,920.0 L303.7,913.7 L319.5,905.8 L333.0,902.0"/>
<path d="M273.8,935.5 L286.8,929.5 L297.8,921.5 L305.5,915.2 L321.3,907.3 L334.8,903.5"/>
<path d="M356.0,897.0 L359.0,896.3 L400.0,885.3 L440.0,871.0 L466.0,862.0 L481.0,853.7 L495.0,846.0 L505.0,838.0 L511.0,828.0 L509.0,817.0"/>
<path d="M357.8,898.5 L360.8,897.8 L401.8,886.8 L441.8,872.5 L467.8,863.5 L482.8,855.2 L496.8,847.5 L506.8,839.5 L512.8,829.5 L510.8,818.5"/>
<path d="M305.0,913.7 L303.7,920.0 L311.6,924.0 L318.0,922.0"/>
<path d="M306.8,915.2 L305.5,921.5 L313.4,925.5 L319.8,923.5"/>
<path d="M484.2,858.4 L482.6,869.5 L485.8,877.4 L490.5,880.5 L497.0,875.0"/>
<path d="M486.0,859.9 L484.4,871.0 L487.6,878.9 L492.3,882.0 L498.8,876.5"/>
<path d="M178.0,936.0 L233.5,936.0" stroke-width="2"/>
<path d="M341.5,865.0 L341.5,906.0"/>
<path d="M424.5,831.5 L424.5,877.0"/>
<path d="M452.0,891.0 L452.0,955.5" stroke-width="2"/>
<path d="M573.0,851.5 L598.0,851.5"/>
<path d="M526.0,926.5 L552.0,926.5"/>
<path d="M579.7,785.5 L551.6,785.5 L521.0,851.0" stroke-width="1.1"/>
<path d="M362.5,995.0 L362.5,969.0 L384.0,941.0" stroke-width="1.1"/>
<path d="M255.0,1029.5 L268.6,1029.5 L286.5,1009.0" stroke-width="1.1"/>
<path d="M357.6,916.8 L381.0,932.2" stroke-dasharray="4.5,3"/>
<path d="M248.7,945.3 L286.0,998.0" stroke-dasharray="4.5,3"/>
<path d="M459.0,891.0 L511.0,920.5" stroke-dasharray="4.5,3"/>
<path d="M526.3,853.2 L556.8,850.5" stroke-dasharray="4.5,3"/>
<path d="M287.4,576.0 L334.7,587.9 L372.6,597.4" stroke-dasharray="4.5,3"/>
<path d="M300,582 l3,-2 l3,2 M303,580 l0,4"/>
<path d="M312,584.5 l3,-2 l3,2 M315,582.5 l0,4"/>
<path d="M451.8,581.8 q3.5,-4 7,0 M455.3,579.8 l0,4"/>
<path d="M591.2,546.3 q3.5,-4 7,0 M594.7,544.3 l0,4"/>
</g>
<rect x="92" y="911" width="86" height="16" fill="#fff"/>
<rect x="92" y="928" width="88" height="16" fill="#fff"/>
<rect x="92" y="945" width="122" height="18" fill="#fff"/>
<g fill="#000" style="will-change:transform">
<text transform="translate(396.45,87.70) scale(1.0558,1)" font-family='"Liberation Mono", monospace' font-weight="bold" font-size="16.24" xml:space="preserve"><tspan>90178-10021</tspan><tspan font-size="13.62" dy="-1.33">(</tspan><tspan dy="1.33">3</tspan><tspan font-size="13.62" dy="-1.33">)</tspan></text>
<text transform="translate(34.56,217.50) scale(1.0623,1)" font-family='"Liberation Mono", monospace' font-weight="bold" font-size="15.94" xml:space="preserve"><tspan>90178-10021</tspan><tspan font-size="13.41" dy="-1.28">(</tspan><tspan dy="1.28">3</tspan><tspan font-size="13.41" dy="-1.28">)</tspan></text>
<text transform="translate(524.25,188.30) scale(1.0393,1)" font-family='"Liberation Mono", monospace' font-weight="bold" font-size="16.40" xml:space="preserve"><tspan>90159-50311</tspan><tspan font-size="13.73" dy="-1.35">(</tspan><tspan dy="1.35">2</tspan><tspan font-size="13.73" dy="-1.35">)</tspan></text>
<text transform="translate(589.65,235.30) scale(0.9716,1)" font-family='"Liberation Mono", monospace' font-weight="bold" font-size="17.61" xml:space="preserve"><tspan>90159-50311</tspan><tspan font-size="14.59" dy="-1.53">(</tspan><tspan dy="1.53">2</tspan><tspan font-size="14.59" dy="-1.53">)</tspan></text>
<text transform="translate(132.46,337.40) scale(0.9714,1)" font-family='"Liberation Mono", monospace' font-weight="bold" font-size="17.46" xml:space="preserve"><tspan>90159-50311</tspan><tspan font-size="14.48" dy="-1.51">(</tspan><tspan dy="1.51">2</tspan><tspan font-size="14.48" dy="-1.51">)</tspan></text>
<text transform="translate(284.25,413.30) scale(0.9948,1)" font-family='"Liberation Mono", monospace' font-weight="bold" font-size="17.16" xml:space="preserve"><tspan>90159-50311</tspan><tspan font-size="14.27" dy="-1.46">(</tspan><tspan dy="1.46">2</tspan><tspan font-size="14.27" dy="-1.46">)</tspan></text>
<text transform="translate(407.77,398.80) scale(0.9614,1)" font-family='"Liberation Mono", monospace' font-weight="bold" font-size="17.31" xml:space="preserve"><tspan>90159-60431</tspan></text>
<text transform="translate(79.68,497.40) scale(0.9890,1)" font-family='"Liberation Mono", monospace' font-weight="bold" font-size="16.70" xml:space="preserve"><tspan>90159-60431</tspan></text>
<text transform="translate(38.45,571.30) scale(0.9884,1)" font-family='"Liberation Mono", monospace' font-weight="bold" font-size="17.31" xml:space="preserve"><tspan>90179-06156</tspan><tspan font-size="14.38" dy="-1.48">(</tspan><tspan dy="1.48">2</tspan><tspan font-size="14.38" dy="-1.48">)</tspan></text>
<text transform="translate(36.45,646.90) scale(0.9891,1)" font-family='"Liberation Mono", monospace' font-weight="bold" font-size="17.31" xml:space="preserve"><tspan>90189-05142</tspan><tspan font-size="14.38" dy="-1.48">(</tspan><tspan dy="1.48">2</tspan><tspan font-size="14.38" dy="-1.48">)</tspan></text>
<text transform="translate(569.55,661.70) scale(1.0043,1)" font-family='"Liberation Mono", monospace' font-weight="bold" font-size="17.00" xml:space="preserve"><tspan>90159-60383</tspan><tspan font-size="14.16" dy="-1.44">(</tspan><tspan dy="1.44">2</tspan><tspan font-size="14.16" dy="-1.44">)</tspan></text>
<text transform="translate(250.05,694.20) scale(0.9948,1)" font-family='"Liberation Mono", monospace' font-weight="bold" font-size="17.16" xml:space="preserve"><tspan>90159-50353</tspan><tspan font-size="14.27" dy="-1.46">(</tspan><tspan dy="1.46">2</tspan><tspan font-size="14.27" dy="-1.46">)</tspan></text>
<text transform="translate(235.91,102.70) scale(0.9303,1)" font-family='"Liberation Mono", monospace' font-weight="bold" font-size="20.95" xml:space="preserve"><tspan>52023</tspan></text>
<text transform="translate(326.92,277.00) scale(0.9309,1)" font-family='"Liberation Mono", monospace' font-weight="bold" font-size="20.65" xml:space="preserve"><tspan>52615</tspan></text>
<text transform="translate(501.81,210.30) scale(1.0197,1)" font-family='"Liberation Mono", monospace' font-weight="bold" font-size="19.13" xml:space="preserve"><tspan>52157C</tspan></text>
<text transform="translate(416.73,269.50) scale(0.9678,1)" font-family='"Liberation Mono", monospace' font-weight="bold" font-size="19.74" xml:space="preserve"><tspan>52197A</tspan></text>
<text transform="translate(633.93,321.30) scale(0.9380,1)" font-family='"Liberation Mono", monospace' font-weight="bold" font-size="20.34" xml:space="preserve"><tspan>52575</tspan></text>
<text transform="translate(278.61,298.80) scale(0.9489,1)" font-family='"Liberation Mono", monospace' font-weight="bold" font-size="20.65" xml:space="preserve"><tspan>52158C</tspan></text>
<text transform="translate(348.71,311.70) scale(0.9635,1)" font-family='"Liberation Mono", monospace' font-weight="bold" font-size="20.19" xml:space="preserve"><tspan>52576</tspan></text>
<text transform="translate(176.14,433.50) scale(0.9292,1)" font-family='"Liberation Mono", monospace' font-weight="bold" font-size="20.34" xml:space="preserve"><tspan>52197A</tspan></text>
<text transform="translate(351.82,434.30) scale(0.9883,1)" font-family='"Liberation Mono", monospace' font-weight="bold" font-size="19.58" xml:space="preserve"><tspan>52188B</tspan></text>
<text transform="translate(484.84,425.60) scale(0.9446,1)" font-family='"Liberation Mono", monospace' font-weight="bold" font-size="20.04" xml:space="preserve"><tspan>52188B</tspan></text>
<text transform="translate(505.54,452.20) scale(0.9180,1)" font-family='"Liberation Mono", monospace' font-weight="bold" font-size="20.65" xml:space="preserve"><tspan>52462</tspan></text>
<text transform="translate(439.02,470.20) scale(0.9184,1)" font-family='"Liberation Mono", monospace' font-weight="bold" font-size="21.10" xml:space="preserve"><tspan>52159</tspan></text>
<text transform="translate(155.40,532.70) scale(0.9712,1)" font-family='"Liberation Mono", monospace' font-weight="bold" font-size="20.19" xml:space="preserve"><tspan>61647F</tspan><tspan font-size="16.41" dy="-1.91">(</tspan><tspan dy="1.91">RH</tspan><tspan font-size="16.41" dy="-1.91">)</tspan></text>
<text transform="translate(155.40,551.60) scale(0.9712,1)" font-family='"Liberation Mono", monospace' font-weight="bold" font-size="20.19" xml:space="preserve"><tspan>61648H</tspan><tspan font-size="16.41" dy="-1.91">(</tspan><tspan dy="1.91">LH</tspan><tspan font-size="16.41" dy="-1.91">)</tspan></text>
<text transform="translate(617.90,572.50) scale(1.0343,1)" font-family='"Liberation Mono", monospace' font-weight="bold" font-size="19.13" xml:space="preserve"><tspan>52163A</tspan><tspan font-size="15.66" dy="-1.75">(</tspan><tspan dy="1.75">RH</tspan><tspan font-size="15.66" dy="-1.75">)</tspan></text>
<text transform="translate(617.90,590.20) scale(1.0424,1)" font-family='"Liberation Mono", monospace' font-weight="bold" font-size="18.98" xml:space="preserve"><tspan>52164A</tspan><tspan font-size="15.56" dy="-1.73">(</tspan><tspan dy="1.73">LH</tspan><tspan font-size="15.56" dy="-1.73">)</tspan></text>
<text transform="translate(490.82,647.80) scale(0.9388,1)" font-family='"Liberation Mono", monospace' font-weight="bold" font-size="20.50" xml:space="preserve"><tspan>52161B</tspan></text>
<text transform="translate(344.03,664.40) scale(0.9566,1)" font-family='"Liberation Mono", monospace' font-weight="bold" font-size="19.89" xml:space="preserve"><tspan>52462</tspan></text>
<text transform="translate(588.32,89.30) scale(1.1915,1)" font-family='"Liberation Sans", sans-serif' font-weight="normal" font-size="13.95" xml:space="preserve"><tspan>※1</tspan></text>
<text transform="translate(611.83,89.30) scale(1.2596,1)" font-family='"Liberation Sans", sans-serif' font-weight="normal" font-size="14.97" xml:space="preserve"><tspan>(</tspan></text>
<text transform="translate(647.36,89.30) scale(1.0296,1)" font-family='"Liberation Sans", sans-serif' font-weight="normal" font-size="13.95" xml:space="preserve"><tspan>-1002)</tspan></text>
<text transform="translate(64.14,737.10) scale(0.9132,1)" font-family='"Liberation Sans", sans-serif' font-weight="normal" font-size="14.68" xml:space="preserve"><tspan>W(CLEARANC &amp; BACK SONAR)</tspan></text>
<text transform="translate(672.41,1076.30) scale(1.0181,1)" font-family='"Liberation Sans", sans-serif' font-weight="normal" font-size="14.39" xml:space="preserve"><tspan>522060B</tspan></text>
<text transform="translate(482.28,451.50) scale(1.1535,1)" font-family='"Liberation Sans", sans-serif' font-weight="normal" font-size="15.26" xml:space="preserve"><tspan>※1</tspan></text>
<text transform="translate(322.82,663.00) scale(1.0830,1)" font-family='"Liberation Sans", sans-serif' font-weight="normal" font-size="15.26" xml:space="preserve"><tspan>※1</tspan></text>
<text transform="translate(374.85,793.20) scale(1.0774,1)" font-family='"Liberation Mono", monospace' font-weight="bold" font-size="15.94" xml:space="preserve"><tspan>REFER TO</tspan></text>
<text transform="translate(375.62,810.50) scale(1.0925,1)" font-family='"Liberation Mono", monospace' font-weight="bold" font-size="15.49" xml:space="preserve"><tspan>FIG 82-02</tspan></text>
<text transform="translate(377.44,828.00) scale(0.9830,1)" font-family='"Liberation Mono", monospace' font-weight="bold" font-size="17.16" xml:space="preserve"><tspan font-size="14.27" dy="-1.46">(</tspan><tspan dy="1.46">PNC 82182</tspan><tspan font-size="14.27" dy="-1.46">)</tspan></text>
<text transform="translate(579.46,773.60) scale(1.1271,1)" font-family='"Liberation Mono", monospace' font-weight="bold" font-size="15.18" xml:space="preserve"><tspan>REFER TO</tspan></text>
<text transform="translate(579.21,790.80) scale(1.0677,1)" font-family='"Liberation Mono", monospace' font-weight="bold" font-size="15.94" xml:space="preserve"><tspan>FIG 84-17</tspan></text>
<text transform="translate(581.08,807.50) scale(1.0741,1)" font-family='"Liberation Mono", monospace' font-weight="bold" font-size="15.94" xml:space="preserve"><tspan font-size="13.41" dy="-1.28">(</tspan><tspan dy="1.28">PNC 89341A</tspan><tspan font-size="13.41" dy="-1.28">)</tspan></text>
<text transform="translate(291.87,826.60) scale(1.1286,1)" font-family='"Liberation Mono", monospace' font-weight="bold" font-size="15.03" xml:space="preserve"><tspan>REFER TO</tspan></text>
<text transform="translate(292.12,844.00) scale(1.0744,1)" font-family='"Liberation Mono", monospace' font-weight="bold" font-size="15.79" xml:space="preserve"><tspan>FIG 84-17</tspan></text>
<text transform="translate(293.94,862.00) scale(0.9370,1)" font-family='"Liberation Mono", monospace' font-weight="bold" font-size="18.22" xml:space="preserve"><tspan font-size="15.02" dy="-1.62">(</tspan><tspan dy="1.62">PNC 89341A</tspan><tspan font-size="15.02" dy="-1.62">)</tspan></text>
<text transform="translate(596.84,838.70) scale(1.1397,1)" font-family='"Liberation Mono", monospace' font-weight="bold" font-size="15.18" xml:space="preserve"><tspan>REFER TO</tspan></text>
<text transform="translate(597.31,856.40) scale(1.0565,1)" font-family='"Liberation Mono", monospace' font-weight="bold" font-size="16.09" xml:space="preserve"><tspan>FIG 84-17</tspan></text>
<text transform="translate(598.58,874.00) scale(1.0830,1)" font-family='"Liberation Mono", monospace' font-weight="bold" font-size="15.79" xml:space="preserve"><tspan font-size="13.30" dy="-1.26">(</tspan><tspan dy="1.26">PNC 89348</tspan><tspan font-size="13.30" dy="-1.26">)</tspan></text>
<text transform="translate(93.36,924.50) scale(1.1215,1)" font-family='"Liberation Mono", monospace' font-weight="bold" font-size="15.18" xml:space="preserve"><tspan>REFER TO</tspan></text>
<text transform="translate(93.11,942.00) scale(1.0204,1)" font-family='"Liberation Mono", monospace' font-weight="bold" font-size="16.70" xml:space="preserve"><tspan>FIG 84-17</tspan></text>
<text transform="translate(93.58,959.00) scale(1.0980,1)" font-family='"Liberation Mono", monospace' font-weight="bold" font-size="15.56" xml:space="preserve"><tspan font-size="13.14" dy="-1.23">(</tspan><tspan dy="1.23">PNC 89341A</tspan><tspan font-size="13.14" dy="-1.23">)</tspan></text>
<text transform="translate(550.65,914.00) scale(1.1132,1)" font-family='"Liberation Mono", monospace' font-weight="bold" font-size="15.49" xml:space="preserve"><tspan>REFER TO</tspan></text>
<text transform="translate(550.91,931.50) scale(1.0589,1)" font-family='"Liberation Mono", monospace' font-weight="bold" font-size="16.09" xml:space="preserve"><tspan>FIG 84-17</tspan></text>
<text transform="translate(553.00,949.20) scale(1.0568,1)" font-family='"Liberation Mono", monospace' font-weight="bold" font-size="16.09" xml:space="preserve"><tspan font-size="13.52" dy="-1.31">(</tspan><tspan dy="1.31">PNC 89348</tspan><tspan font-size="13.52" dy="-1.31">)</tspan></text>
<text transform="translate(412.36,969.70) scale(1.1243,1)" font-family='"Liberation Mono", monospace' font-weight="bold" font-size="15.18" xml:space="preserve"><tspan>REFER TO</tspan></text>
<text transform="translate(413.03,987.80) scale(1.0458,1)" font-family='"Liberation Mono", monospace' font-weight="bold" font-size="16.09" xml:space="preserve"><tspan>FIG 84-17</tspan></text>
<text transform="translate(414.10,1005.50) scale(1.0480,1)" font-family='"Liberation Mono", monospace' font-weight="bold" font-size="16.24" xml:space="preserve"><tspan font-size="13.62" dy="-1.33">(</tspan><tspan dy="1.33">PNC 89341A</tspan><tspan font-size="13.62" dy="-1.33">)</tspan></text>
<text transform="translate(323.36,1006.00) scale(1.0606,1)" font-family='"Liberation Mono", monospace' font-weight="bold" font-size="16.09" xml:space="preserve"><tspan>REFER TO</tspan></text>
<text transform="translate(323.10,1024.00) scale(1.0249,1)" font-family='"Liberation Mono", monospace' font-weight="bold" font-size="16.70" xml:space="preserve"><tspan>FIG 84-17</tspan></text>
<text transform="translate(324.14,1040.30) scale(1.1273,1)" font-family='"Liberation Mono", monospace' font-weight="bold" font-size="15.33" xml:space="preserve"><tspan font-size="12.98" dy="-1.19">(</tspan><tspan dy="1.19">PNC 89348</tspan><tspan font-size="12.98" dy="-1.19">)</tspan></text>
<text transform="translate(164.96,1016.50) scale(1.0397,1)" font-family='"Liberation Mono", monospace' font-weight="bold" font-size="16.40" xml:space="preserve"><tspan>REFER TO</tspan></text>
<text transform="translate(164.72,1034.40) scale(1.0334,1)" font-family='"Liberation Mono", monospace' font-weight="bold" font-size="16.40" xml:space="preserve"><tspan>FIG 84-17</tspan></text>
<text transform="translate(166.60,1051.80) scale(1.0849,1)" font-family='"Liberation Mono", monospace' font-weight="bold" font-size="15.64" xml:space="preserve"><tspan font-size="13.20" dy="-1.24">(</tspan><tspan dy="1.24">PNC 89348</tspan><tspan font-size="13.20" dy="-1.24">)</tspan></text>
</g>
</svg></body></html>
